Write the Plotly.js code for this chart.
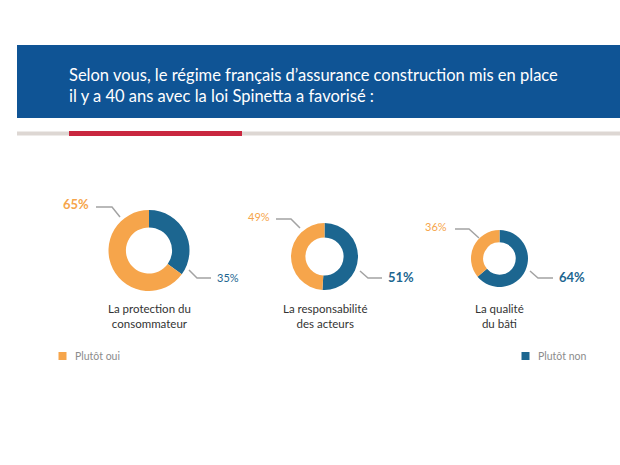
<!DOCTYPE html>
<html>
<head>
<meta charset="utf-8">
<script src="https://cdn.plot.ly/plotly-3.0.1.min.js"></script>
<style>
  html, body { margin: 0; padding: 0; background: #ffffff; }
  #chart { width: 620px; height: 465px; }
</style>
</head>
<body>
<div id="chart"></div>
<script>
// ---- Data ----
const titleText = 'Selon vous, le régime français d’assurance construction mis en place<br>il y a 40 ans avec la loi Spinetta a favorisé :';
const categories = ['La protection du<br>consommateur', 'La responsabilité<br>des acteurs', 'La qualité<br>du bâti'];
const seriesNames = ['Plutôt oui', 'Plutôt non'];
const plutotOui = [65, 49, 36];
const plutotNon = [35, 51, 64];

// ---- Styling / layout helpers ----
const W = 620, H = 465;
const ORANGE = '#f6a54b';
const BLUE = '#1c6690';
const px = x => x / W;
const py = y => 1 - y / H;

// donut geometry (pixels): center x, center y, radius
const donuts = [
  { cx: 149, cy: 250.5, r: 40.5 },
  { cx: 324.5, cy: 256.5, r: 33.5 },
  { cx: 499.5, cy: 258.5, r: 28.5 }
];
// leader line / label placement (pixels)
const leaders = [
  { oui: { path: [[96,207],[112,207],[120,217]], tx: 91, ty: 204 },
    non: { path: [[189,270],[197,278],[211,278]], tx: 215, ty: 277 } },
  { oui: { path: [[276,219],[291,219],[300,228]], tx: 272, ty: 216 },
    non: { path: [[360,271],[368,278],[382,278]], tx: 386, ty: 277 } },
  { oui: { path: [[455,229],[469,229],[479,238]], tx: 449, ty: 226 },
    non: { path: [[530,271],[538,278],[553,278]], tx: 557, ty: 277 } }
];

// "Plutôt non" is listed first so that it runs clockwise from 12 o'clock
const traces = categories.map((cat, i) => {
  const d = donuts[i];
  return {
    type: 'pie',
    name: cat.replace('<br>', ' '),
    labels: [seriesNames[1], seriesNames[0]],
    values: [plutotNon[i], plutotOui[i]],
    marker: { colors: [BLUE, ORANGE], line: { width: 0 } },
    hole: 0.57,
    sort: false,
    direction: 'clockwise',
    rotation: 0,
    textinfo: 'none',
    hovertemplate: '%{label}: %{value}%<extra></extra>',
    showlegend: false,
    domain: {
      x: [px(d.cx - d.r), px(d.cx + d.r)],
      y: [py(d.cy + d.r), py(d.cy - d.r)]
    }
  };
});

const shapes = [
  // banner
  { type: 'rect', xref: 'paper', yref: 'paper', x0: px(17), x1: px(620), y0: py(118), y1: py(45),
    fillcolor: '#0f5495', line: { width: 0 }, layer: 'below' },
  // gray rule
  { type: 'rect', xref: 'paper', yref: 'paper', x0: px(17), x1: px(620), y0: py(135.5), y1: py(131.5),
    fillcolor: '#ddd7d3', line: { width: 0 }, layer: 'below' },
  // red accent
  { type: 'rect', xref: 'paper', yref: 'paper', x0: px(69), x1: px(242), y0: py(136), y1: py(131),
    fillcolor: '#c9273f', line: { width: 0 }, layer: 'below' },
  // legend squares
  { type: 'rect', xref: 'paper', yref: 'paper', x0: px(58.5), x1: px(66.5), y0: py(360), y1: py(352),
    fillcolor: ORANGE, line: { width: 0 } },
  { type: 'rect', xref: 'paper', yref: 'paper', x0: px(521.5), x1: px(529.5), y0: py(360), y1: py(352),
    fillcolor: BLUE, line: { width: 0 } }
];

const annotations = [];
categories.forEach((cat, i) => {
  const d = donuts[i];
  // category label
  annotations.push({
    xref: 'paper', yref: 'paper', x: px(d.cx), y: py(316), xanchor: 'center', yanchor: 'middle',
    text: cat, showarrow: false, align: 'center',
    font: { family: 'Lato, sans-serif', size: 11.5, color: '#333333' }
  });
  const vals = { oui: plutotOui[i], non: plutotNon[i] };
  ['oui', 'non'].forEach(k => {
    const L = leaders[i][k];
    const other = k === 'oui' ? vals.non : vals.oui;
    const major = vals[k] > other;
    const col = k === 'oui' ? ORANGE : BLUE;
    shapes.push({
      type: 'path', xref: 'paper', yref: 'paper',
      path: 'M' + L.path.map(p => px(p[0]) + ',' + py(p[1])).join(' L'),
      line: { color: '#a3a3a3', width: 1.5 }
    });
    annotations.push({
      xref: 'paper', yref: 'paper', x: px(L.tx), y: py(L.ty),
      xanchor: k === 'oui' ? 'right' : 'left', yanchor: 'middle',
      text: major ? '<b>' + vals[k] + '%</b>' : vals[k] + '%',
      showarrow: false,
      font: { family: 'Lato, sans-serif', size: major ? 13 : 11, color: col }
    });
  });
});

// legend texts
annotations.push({
  xref: 'paper', yref: 'paper', x: px(73), y: py(356), xanchor: 'left', yanchor: 'middle',
  text: seriesNames[0], showarrow: false,
  font: { family: 'Lato, sans-serif', size: 10.5, color: '#8c8c8c' }
});
annotations.push({
  xref: 'paper', yref: 'paper', x: px(536), y: py(356), xanchor: 'left', yanchor: 'middle',
  text: seriesNames[1], showarrow: false,
  font: { family: 'Lato, sans-serif', size: 10.5, color: '#8c8c8c' }
});

const layout = {
  width: W, height: H,
  margin: { l: 0, r: 0, t: 0, b: 0 },
  paper_bgcolor: '#ffffff',
  plot_bgcolor: '#ffffff',
  title: {
    text: titleText,
    xref: 'paper', yref: 'container',
    x: px(69), xanchor: 'left',
    y: 1 - 81 / H, yanchor: 'middle',
    font: { family: 'Lato, sans-serif', size: 16.5, color: '#ffffff' }
  },
  showlegend: false,
  shapes: shapes,
  annotations: annotations
};

Plotly.newPlot('chart', traces, layout, { displayModeBar: false, staticPlot: true });
</script>
</body>
</html>
